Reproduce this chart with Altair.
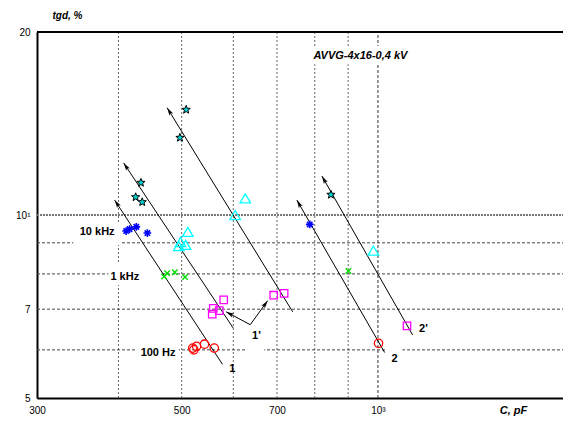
import math
import altair as alt
import pandas as pd

# ---------------- data ----------------
X_MIN, X_MAX = 300, 1922
Y_MIN, Y_MAX = 5, 20
W, H = 526, 366

grid_x = [400, 500, 600, 700, 800, 900]
grid_x_major = [1000]
grid_y = [6, 7, 8, 9]
grid_y_major = [10]
x_ticks = [300, 500, 700, 1000]
y_ticks = [5, 7, 10, 20]

star_c = [508, 497, 433, 425, 435, 847]
star_tg = [14.9, 13.4, 11.3, 10.7, 10.5, 10.8]

tri_c = [511, 498, 507, 495, 626, 604, 984]
tri_tg = [9.38, 9.03, 8.93, 8.89, 10.65, 10.0, 8.74]

ast_c = [411, 416, 426, 443, 786]
ast_tg = [9.41, 9.48, 9.56, 9.34, 9.65]

xg_c = [470, 475, 488, 506, 901]
xg_tg = [7.92, 8.02, 8.05, 7.91, 8.09]

sq_c = [557, 559, 571, 580, 692, 718, 1108]
sq_tg = [6.87, 7.02, 6.96, 7.25, 7.38, 7.43, 6.57]

circ_c = [520, 522, 527, 542, 561, 1002]
circ_tg = [6.04, 6.00, 6.08, 6.13, 6.04, 6.15]

# arrows: start -> tip
arr_x0 = [577.5, 599.6, 740, 1024, 1130, 637, 637]
arr_y0 = [5.68, 6.52, 6.93, 5.94, 6.35, 6.60, 6.60]
arr_x1 = [394.6, 407.4, 475, 751, 820.5, 585, 677.5]
arr_y1 = [10.58, 12.18, 15.01, 10.58, 11.59, 6.93, 7.23]

lab_text = ["1", "1'", "2", "2'", "10 kHz", "1 kHz", "100 Hz"]
lab_x = [598, 651, 1060, 1174, 371, 409, 460]
lab_y = [5.59, 6.32, 5.80, 6.49, 9.38, 7.91, 5.94]

note_text = ["AVVG-4x16-0,4 kV"]
note_x = [940]
note_y = [18.26]

# white boxes behind labels (hide grid lines)
box_x = [341, 386, 426, 630, 1027, 779]
box_x2 = [404, 464, 495, 669, 1090, 1134]
box_y = [8.93, 7.67, 5.73, 5.95, 5.52, 17.7]
box_y2 = [9.74, 8.31, 6.23, 6.57, 6.07, 18.97]

# ---------------- chart ----------------
FONT = "Liberation Sans"
xs = alt.Scale(type="log", domain=[X_MIN, X_MAX], nice=False)
ys = alt.Scale(type="log", domain=[Y_MIN, Y_MAX], nice=False)

x_axis = alt.Axis(
    values=x_ticks,
    labelExpr="datum.value == 1000 ? '10³' : '' + datum.value",
    ticks=False, grid=False, domainColor="black", domainWidth=2,
    labelFont=FONT, labelFontSize=10, labelColor="black", labelPadding=7,
    labelFlush=False,
    title="C, pF", titleFont=FONT, titleFontSize=11, titleFontStyle="italic",
    titleFontWeight="bold", titleX=476, titleY=12, titleBaseline="middle",
    titleAlign="center", titleColor="black",
)
y_axis = alt.Axis(
    values=y_ticks,
    labelExpr="datum.value == 10 ? '10¹' : '' + datum.value",
    ticks=False, grid=False, domainColor="black", domainWidth=2,
    labelFont=FONT, labelFontSize=10, labelColor="black", labelPadding=7,
    labelFlush=False,
    title="tgd, %", titleFont=FONT, titleFontSize=10, titleFontStyle="italic",
    titleFontWeight="bold", titleAngle=0, titleX=30, titleY=-17,
    titleAlign="center", titleBaseline="middle", titleColor="black",
)


def X(f="x"):
    return alt.X(f"{f}:Q", scale=xs, axis=x_axis)


def Y(f="y"):
    return alt.Y(f"{f}:Q", scale=ys, axis=y_axis)


vgrid = pd.DataFrame({"x": grid_x, "y": Y_MIN, "y2": Y_MAX})
vgrid_m = pd.DataFrame({"x": grid_x_major, "y": Y_MIN, "y2": Y_MAX})
hgrid = pd.DataFrame({"y": grid_y, "x": X_MIN, "x2": X_MAX})
hgrid_m = pd.DataFrame({"y": grid_y_major, "x": X_MIN, "x2": X_MAX})
frame = pd.DataFrame({"x": [X_MIN], "x2": [X_MAX], "y": [Y_MAX]})

l_vgrid = alt.Chart(vgrid).mark_rule(color="#666", strokeDash=[2, 2], strokeWidth=1).encode(
    x=X(), y=Y(), y2="y2")
l_vgrid_m = alt.Chart(vgrid_m).mark_rule(color="#333", strokeDash=[3, 2], strokeWidth=1).encode(
    x=X(), y=Y(), y2="y2")
l_hgrid = alt.Chart(hgrid).mark_rule(color="#444", strokeDash=[3, 2], strokeWidth=1).encode(
    x=X(), x2="x2", y=Y())
l_hgrid_m = alt.Chart(hgrid_m).mark_rule(color="#777", strokeDash=[2, 1], strokeWidth=2.2).encode(
    x=X(), x2="x2", y=Y())

boxes = pd.DataFrame({"x": box_x, "x2": box_x2, "y": box_y, "y2": box_y2})
l_boxes = alt.Chart(boxes).mark_rect(color="white").encode(x=X(), x2="x2", y=Y(), y2="y2")

l_frame = alt.Chart(frame).mark_rule(color="black", strokeWidth=2).encode(x=X(), x2="x2", y=Y())

# arrows
kx = W / math.log(X_MAX / X_MIN)
ky = H / math.log(Y_MAX / Y_MIN)
angles = []
for a, b, c, d in zip(arr_x0, arr_y0, arr_x1, arr_y1):
    dx = kx * math.log(c / a)
    dup = ky * math.log(d / b)
    angles.append(math.degrees(math.atan2(dx, dup)) % 360)
arrows = pd.DataFrame({"x": arr_x0, "y": arr_y0, "x2": arr_x1, "y2": arr_y1,
                       "hx": arr_x1, "hy": arr_y1, "ang": angles})
l_arr = alt.Chart(arrows).mark_rule(color="black", strokeWidth=1).encode(
    x=X(), x2="x2", y=Y(), y2="y2")
HEAD = "M0,0L0.55,2L0,1.55L-0.55,2Z"
l_head = alt.Chart(arrows).mark_point(shape=HEAD, filled=True, color="black", size=64,
                                      opacity=1).encode(
    x=X("hx"), y=Y("hy"), angle=alt.Angle("ang:Q", scale=None))

# markers
pts = []
for i in range(10):
    r = 1.0 if i % 2 == 0 else 0.42
    t = math.radians(-90 + 36 * i)
    pts.append(f"{r*math.cos(t):.3f},{r*math.sin(t):.3f}")
STAR = "M" + "L".join(pts) + "Z"
AST = "M-1,0L1,0M0,-1L0,1M-0.7,-0.7L0.7,0.7M-0.7,0.7L0.7,-0.7"
XMARK = "M-1,-1L1,1M-1,1L1,-1"


def series(cs, ts, **mk):
    df = pd.DataFrame({"x": cs, "y": ts})
    return alt.Chart(df).mark_point(opacity=1, **mk).encode(x=X(), y=Y())


l_star = series(star_c, star_tg, shape=STAR, filled=True, fill="#00d8d8",
                stroke="black", strokeWidth=1, size=75)
l_tri = series(tri_c, tri_tg, shape="triangle-up", filled=False, color="#00ffff",
               strokeWidth=1.3, size=110)
l_ast = series(ast_c, ast_tg, shape=AST, filled=False, color="#0000ff",
               strokeWidth=1.6, size=60)
l_xg = series(xg_c, xg_tg, shape=XMARK, filled=False, color="#00dd00",
              strokeWidth=1.4, size=30)
l_sq = series(sq_c, sq_tg, shape="square", filled=False, color="#ff00ff",
              strokeWidth=1.3, size=55)
l_circ = series(circ_c, circ_tg, shape="circle", filled=False, color="#ff0000",
                strokeWidth=1.3, size=70)

labels = pd.DataFrame({"x": lab_x, "y": lab_y, "t": lab_text})
l_lab = alt.Chart(labels).mark_text(font=FONT, fontSize=11, fontWeight="bold",
                                    color="black", align="center", baseline="middle").encode(
    x=X(), y=Y(), text="t:N")
notes = pd.DataFrame({"x": note_x, "y": note_y, "t": note_text})
l_note = alt.Chart(notes).mark_text(font=FONT, fontSize=11, fontWeight="bold",
                                    fontStyle="italic", color="black", align="center",
                                    baseline="middle").encode(x=X(), y=Y(), text="t:N")

chart = alt.layer(
    l_vgrid, l_vgrid_m, l_hgrid, l_hgrid_m, l_boxes, l_frame,
    l_arr, l_head, l_star, l_tri, l_ast, l_xg, l_sq, l_circ, l_lab, l_note,
).properties(
    width=W, height=H,
    autosize=alt.AutoSizeParams(type="none"),
    padding={"left": 29, "top": 24, "right": 0, "bottom": 18},
    background="white",
).configure_view(stroke=None)

chart.save("out.html", embed_options={"renderer": "svg", "actions": False})
